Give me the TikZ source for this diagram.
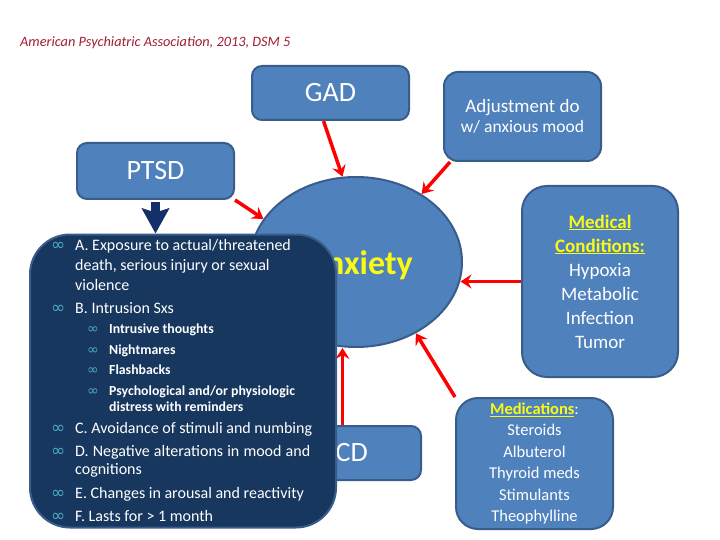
\documentclass[tikz,border=0pt]{standalone}
\usepackage{fontspec}
\setmainfont{Carlito}
\newfontfamily\symfont{DejaVu Sans}
\usetikzlibrary{arrows.meta,shapes.geometric}
\definecolor{boxblue}{HTML}{4F81BD}
\definecolor{boxedge}{HTML}{385D8A}
\definecolor{navy}{HTML}{17375E}
\definecolor{navyarrow}{HTML}{13306A}
\definecolor{citered}{RGB}{160,30,50}
\definecolor{bulletcol}{HTML}{4BACC6}
\definecolor{yel}{RGB}{250,250,20}
\begin{document}
\begin{tikzpicture}[x=1pt,y=-1pt,
 bluebox/.style={draw=boxedge,line width=2pt,fill=boxblue,rounded corners=10pt,text=white,inner sep=0pt,align=center},
 redarrow/.style={draw=red,line width=3.5pt,-{Stealth[length=11pt,width=14pt,inset=4pt]}},
 lvlone/.style={anchor=base west,text=white,font=\fontsize{16}{18}\selectfont,inner sep=0pt},
 lvltwo/.style={anchor=base west,text=white,font=\bfseries\fontsize{13.8}{16}\selectfont,inner sep=0pt},
 bulone/.style={anchor=base west,text=bulletcol,font=\symfont\fontsize{17}{18}\selectfont,inner sep=0pt},
 bultwo/.style={anchor=base west,text=bulletcol,font=\symfont\fontsize{14}{16}\selectfont,inner sep=0pt}]
\fill[white] (0,0) rectangle (720,540);
\useasboundingbox (0,0) rectangle (720,540);

% citation
\node[anchor=base west,inner sep=0pt,text=citered,font=\itshape\fontsize{14.3}{16}\selectfont] (cite) at (20,47) {American Psychiatric Association, 2013, DSM 5};

% central ellipse
\node[ellipse,draw=boxedge,line width=2pt,fill=boxblue,minimum width=212pt,minimum height=170pt,inner sep=0pt] (ell) at (356,262) {};
\node[anchor=base east,inner sep=0pt,text=yel,font=\bfseries\fontsize{34}{40}\selectfont] (anx) at (413,274) {Anxiety};

% box centres
\path (330.5,93) coordinate (gadc) (522.5,116.5) coordinate (adjc) (155.5,171) coordinate (ptsdc)
      (600,281.5) coordinate (medc) (534.5,461.5) coordinate (medsc) (342.5,453) coordinate (ocdc);

\node[bluebox,minimum width=157pt,minimum height=54pt,font=\fontsize{28}{30}\selectfont] (gad) at (gadc) {GAD};
\node[bluebox,rounded corners=14pt,minimum width=157pt,minimum height=89pt] (adj) at (adjc) {{\fontsize{19}{22}\selectfont Adjustment do}\\[4pt]{\fontsize{17.5}{20}\selectfont w/ anxious mood}};
\node[bluebox,minimum width=157pt,minimum height=56pt,font=\fontsize{28}{30}\selectfont] (ptsd) at (ptsdc) {PTSD};
\node[bluebox,rounded corners=25pt,minimum width=156pt,minimum height=191pt,font=\fontsize{19}{24}\selectfont] (med) at (medc) {\textcolor{yel}{\bfseries\underline{Medical}}\\\textcolor{yel}{\bfseries\underline{Conditions:}}\\Hypoxia\\Metabolic\\Infection\\Tumor};
\node[bluebox,rounded corners=22pt,minimum width=157pt,minimum height=131pt,font=\fontsize{16.5}{21.5}\selectfont] (meds) at ([yshift=-2pt]medsc) {\textcolor{yel}{\bfseries\underline{Medications}}:\\Steroids\\Albuterol\\Thyroid meds\\Stimulants\\Theophylline};
\node[bluebox,minimum width=157pt,minimum height=54pt,font=\fontsize{28}{30}\selectfont] (ocd) at (ocdc) {OCD};

% red arrows
\draw[redarrow] ([xshift=-7pt]gad.south) -- (ell.99);
\draw[redarrow] ([xshift=7pt]adj.south west) -- (ell.46);
\draw[redarrow] (ptsd.south east) -- (ell.155);
\draw[redarrow] (med.west) -- (med.west -| ell.-10);
\draw[redarrow] (meds.north west) -- (ell.-50);
\draw[redarrow] (ocd.north) -- (ocd.north |- ell.south);

% PTSD criteria box
\node[draw=boxedge,line width=2pt,fill=navy,rounded corners=40pt,minimum width=306pt,minimum height=293pt,inner sep=0pt] (crit) at (183,381) {};

\node[bulone] (b1) at (51,251) {∞};
\node[lvlone] (t1) at (75,251) {A. Exposure to actual/threatened};
\node[lvlone] (t1b) at (75,270) {death, serious injury or sexual};
\node[lvlone] (t1c) at (75,290) {violence};
\node[bulone] (b2) at (51,313) {∞};
\node[lvlone] (t2) at (75,313) {B. Intrusion Sxs};
\node[bultwo] (b21) at (87,333) {∞};
\node[lvltwo] (t21) at (109,333) {Intrusive thoughts};
\node[bultwo] (b22) at (87,354) {∞};
\node[lvltwo] (t22) at (109,354) {Nightmares};
\node[bultwo] (b23) at (87,374) {∞};
\node[lvltwo] (t23) at (109,374) {Flashbacks};
\node[bultwo] (b24) at (87,395) {∞};
\node[lvltwo] (t24) at (109,395) {Psychological and/or physiologic};
\node[lvltwo] (t24b) at (109,411) {distress with reminders};
\node[bulone] (b3) at (51,433) {∞};
\node[lvlone] (t3) at (75,433) {C. Avoidance of stimuli and numbing};
\node[bulone] (b4) at (51,456) {∞};
\node[lvlone] (t4) at (75,456) {\makebox[235pt][s]{D. Negative alterations in mood and}};
\node[lvlone] (t4b) at (75,474) {cognitions};
\node[bulone] (b5) at (51,498) {∞};
\node[lvlone] (t5) at (75,498) {E. Changes in arousal and reactivity};
\node[bulone] (b6) at (51,521) {∞};
\node[lvlone] (t6) at (75,521) {F. Lasts for > 1 month};

% down arrow
\draw[navyarrow,line width=9pt,shorten <=2pt,-{Stealth[width=27pt,length=25pt,inset=4pt]}] (ptsd.south) -- (ptsd.south |- crit.north);
\end{tikzpicture}
\end{document}
